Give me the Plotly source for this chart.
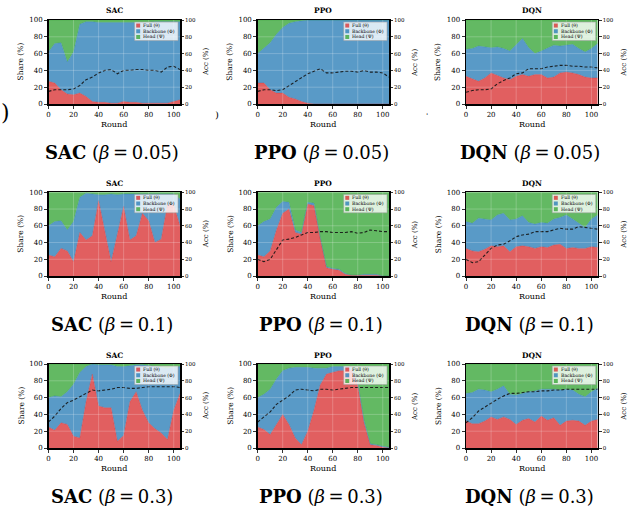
import plotly.graph_objects as go

# ---------------- data ----------------
rounds = [0, 5, 10, 15, 20, 25, 30, 35, 40, 45, 50, 55, 60, 65, 70, 75, 80, 85, 90, 95, 100, 105]
x_ticks = [0, 20, 40, 60, 80, 100]
y_ticks = [0, 20, 40, 60, 80, 100]
series_names = ["Full (θ)", "Backbone (Φ)", "Head (Ψ)"]
algos = ["SAC", "PPO", "DQN"]
betas = ["0.05", "0.1", "0.3"]

sac_005_full = [27, 25, 17, 12, 11, 13, 9, 3, 2, 2, 1, 1, 3, 2, 2, 1, 1, 1, 1, 1, 3, 5]
sac_005_backbone = [35, 47, 56, 38, 51, 82, 89, 95, 95, 95, 96, 96, 94, 95, 95, 96, 96, 97, 97, 97, 95, 93]
sac_005_head = [38, 28, 27, 50, 38, 5, 2, 2, 3, 3, 3, 3, 3, 3, 3, 3, 3, 2, 2, 2, 2, 2]
sac_005_acc = [15, 17, 17, 17, 18, 22, 29, 32, 37, 40, 41, 36, 40, 40, 41, 41, 40, 40, 38, 44, 45, 41]

ppo_005_full = [25, 25, 17, 13, 13, 8, 6, 3, 1, 0, 0, 0, 0, 0, 0, 0, 0, 0, 0, 0, 0, 0]
ppo_005_backbone = [35, 41, 56, 70, 78, 88, 92, 96, 99, 100, 100, 100, 100, 100, 100, 100, 100, 100, 100, 100, 100, 100]
ppo_005_head = [40, 34, 27, 17, 9, 4, 2, 1, 0, 0, 0, 0, 0, 0, 0, 0, 0, 0, 0, 0, 0, 0]
ppo_005_acc = [15, 17, 17, 16, 17, 22, 26, 31, 36, 39, 42, 37, 37, 38, 39, 39, 38, 40, 38, 38, 37, 32]

dqn_005_full = [33, 30, 27, 31, 37, 34, 31, 29, 33, 35, 33, 35, 35, 31, 32, 37, 38, 37, 35, 32, 31, 31]
dqn_005_backbone = [32, 36, 42, 37, 30, 34, 35, 34, 37, 43, 34, 25, 28, 36, 38, 32, 32, 34, 31, 30, 35, 41]
dqn_005_head = [35, 34, 31, 32, 33, 32, 34, 37, 30, 22, 33, 40, 37, 33, 30, 31, 30, 29, 34, 38, 34, 28]
dqn_005_acc = [14, 16, 17, 17, 18, 24, 28, 31, 36, 37, 42, 42, 42, 44, 45, 46, 46, 45, 45, 44, 44, 43]

sac_01_full = [25, 23, 33, 30, 17, 52, 43, 48, 90, 55, 17, 50, 83, 43, 48, 75, 66, 40, 44, 85, 85, 60]
sac_01_backbone = [35, 42, 33, 25, 48, 42, 56, 50, 7, 42, 81, 47, 15, 55, 50, 23, 32, 58, 54, 13, 13, 32]
sac_01_head = [40, 35, 34, 45, 35, 6, 1, 2, 3, 3, 2, 3, 2, 2, 2, 2, 2, 2, 2, 2, 2, 8]
sac_01_acc = None

ppo_01_full = [25, 23, 30, 55, 75, 80, 52, 50, 86, 84, 45, 10, 8, 7, 2, 1, 1, 1, 1, 1, 0, 0]
ppo_01_backbone = [35, 42, 38, 27, 14, 8, 3, 2, 2, 3, 1, 1, 1, 1, 1, 0, 0, 1, 1, 1, 0, 0]
ppo_01_head = [40, 35, 32, 18, 11, 12, 45, 48, 12, 13, 54, 89, 91, 92, 97, 99, 99, 98, 98, 98, 100, 100]
ppo_01_acc = [20, 17, 20, 32, 43, 44, 46, 49, 52, 52, 53, 53, 52, 52, 52, 53, 51, 52, 55, 54, 53, 53]

dqn_01_full = [33, 30, 29, 32, 36, 35, 36, 29, 35, 36, 35, 33, 35, 34, 37, 38, 33, 34, 33, 33, 35, 34]
dqn_01_backbone = [32, 33, 40, 36, 31, 38, 39, 38, 33, 36, 29, 29, 29, 29, 31, 32, 40, 34, 30, 25, 33, 39]
dqn_01_head = [35, 37, 31, 32, 33, 27, 25, 33, 32, 28, 36, 38, 36, 37, 32, 30, 27, 32, 37, 42, 32, 27]
dqn_01_acc = [20, 16, 17, 25, 33, 37, 38, 42, 47, 49, 50, 53, 53, 53, 55, 57, 56, 56, 59, 58, 57, 56]

sac_03_full = [25, 21, 30, 28, 14, 12, 55, 88, 50, 48, 48, 8, 15, 55, 67, 45, 30, 23, 18, 10, 45, 65]
sac_03_backbone = [35, 41, 31, 39, 62, 78, 42, 12, 49, 51, 51, 89, 82, 43, 32, 54, 68, 74, 78, 85, 51, 32]
sac_03_head = [40, 38, 39, 33, 24, 10, 3, 0, 1, 1, 1, 3, 3, 2, 1, 1, 2, 3, 4, 5, 4, 3]
sac_03_acc = [31, 38, 47, 54, 57, 61, 65, 69, 68, 69, 70, 72, 72, 71, 71, 72, 73, 73, 73, 73, 73, 72]

ppo_03_full = [25, 22, 16, 28, 40, 28, 12, 4, 20, 45, 75, 88, 90, 92, 92, 93, 75, 30, 4, 3, 1, 0]
ppo_03_backbone = [35, 42, 54, 54, 52, 67, 84, 92, 76, 50, 20, 7, 7, 5, 5, 3, 3, 3, 1, 1, 1, 1]
ppo_03_head = [40, 36, 30, 18, 8, 5, 4, 4, 4, 5, 5, 5, 3, 3, 3, 4, 22, 67, 95, 96, 98, 99]
ppo_03_acc = [31, 37, 43, 52, 57, 62, 69, 70, 69, 68, 70, 70, 69, 70, 71, 72, 72, 72, 72, 72, 72, 72]

dqn_03_full = [32, 29, 29, 32, 37, 34, 37, 34, 28, 33, 35, 31, 38, 33, 36, 27, 32, 33, 32, 27, 32, 34]
dqn_03_backbone = [33, 37, 41, 37, 30, 36, 37, 30, 35, 32, 32, 37, 32, 37, 34, 42, 38, 36, 32, 34, 35, 37]
dqn_03_head = [35, 34, 30, 31, 33, 30, 26, 36, 37, 35, 33, 32, 30, 30, 30, 31, 30, 31, 36, 39, 33, 29]
dqn_03_acc = [30, 36, 44, 49, 53, 58, 62, 65, 65, 66, 67, 67, 68, 68, 69, 69, 70, 70, 70, 70, 70, 70]

panels = [
    (sac_005_full, sac_005_backbone, sac_005_head, sac_005_acc),
    (ppo_005_full, ppo_005_backbone, ppo_005_head, ppo_005_acc),
    (dqn_005_full, dqn_005_backbone, dqn_005_head, dqn_005_acc),
    (sac_01_full, sac_01_backbone, sac_01_head, sac_01_acc),
    (ppo_01_full, ppo_01_backbone, ppo_01_head, ppo_01_acc),
    (dqn_01_full, dqn_01_backbone, dqn_01_head, dqn_01_acc),
    (sac_03_full, sac_03_backbone, sac_03_head, sac_03_acc),
    (ppo_03_full, ppo_03_backbone, ppo_03_head, ppo_03_acc),
    (dqn_03_full, dqn_03_backbone, dqn_03_head, dqn_03_acc),
]

# ---------------- layout / style ----------------
W, H = 632, 506
FONT = "DejaVu Serif"
COLORS = ["rgba(214,39,40,0.74)", "rgba(31,119,180,0.74)", "rgba(44,160,44,0.74)"]
col_x0 = [48.5, 257.7, 466.0]
col_x1 = [180.0, 389.0, 597.7]
row_y0 = [20.0, 192.3, 364.0]
row_y1 = [104.0, 276.0, 448.0]


def px(x):
    return x / W


def py(y):
    return 1 - y / H


fig = go.Figure()
annotations = []
shapes = []
layout_axes = {}

for i, (full, backbone, head, acc) in enumerate(panels):
    r, c = divmod(i, 3)
    xa = "x" if i == 0 else f"x{i + 1}"
    ya = "y" if i == 0 else f"y{2 * i + 1}"
    ya2 = f"y{2 * i + 2}"
    xkey = "xaxis" if i == 0 else f"xaxis{i + 1}"
    ykey = "yaxis" if i == 0 else f"yaxis{2 * i + 1}"
    y2key = f"yaxis{2 * i + 2}"

    for name, vals, col in zip(series_names, [full, backbone, head], COLORS):
        fig.add_trace(go.Scatter(
            x=rounds, y=vals, name=name, stackgroup=f"s{i}", mode="lines",
            line=dict(width=0.4, color=col), fillcolor=col,
            xaxis=xa, yaxis=ya, showlegend=False, hoverinfo="skip"))
    if acc is not None:
        fig.add_trace(go.Scatter(
            x=rounds, y=acc, name="Acc", mode="lines",
            line=dict(color="rgba(20,20,20,0.9)", width=1.1, dash="3px,2px"),
            xaxis=xa, yaxis=ya2, showlegend=False, hoverinfo="skip"))
    else:
        fig.add_trace(go.Scatter(x=[], y=[], mode="lines", xaxis=xa, yaxis=ya2,
                                 showlegend=False, hoverinfo="skip"))

    tick_common = dict(ticks="outside", ticklen=3, tickwidth=0.8, tickcolor="black",
                       showgrid=False, zeroline=False, automargin=False)
    layout_axes[xkey] = dict(
        domain=[px(col_x0[c]), px(col_x1[c])], range=[0, 105], tickvals=x_ticks,
        tickfont=dict(family=FONT, size=7, color="black"),
        showline=True, mirror=True, linecolor="black", linewidth=1.5,
        anchor=ya, **tick_common)
    layout_axes[ykey] = dict(
        domain=[py(row_y1[r]), py(row_y0[r])], range=[0, 100], tickvals=y_ticks,
        tickfont=dict(family=FONT, size=7, color="black"),
        showline=True, mirror=True, linecolor="black", linewidth=1.5,
        anchor=xa, **tick_common)
    layout_axes[y2key] = dict(
        domain=[py(row_y1[r]), py(row_y0[r])], range=[0, 100], tickvals=y_ticks,
        tickfont=dict(family=FONT, size=5.5, color="black"),
        overlaying=ya, side="right", anchor=xa, showline=False, **tick_common)

    # grid lines (light, above fills)
    for gx in x_ticks[1:]:
        shapes.append(dict(type="line", xref=xa, yref=f"{ya} domain", x0=gx, x1=gx, y0=0, y1=1,
                           line=dict(color="rgba(255,255,255,0.28)", width=0.8), layer="above"))
    for gy in y_ticks[1:-1]:
        shapes.append(dict(type="line", xref=f"{xa} domain", yref=ya, x0=0, x1=1, y0=gy, y1=gy,
                           line=dict(color="rgba(255,255,255,0.28)", width=0.8), layer="above"))

    # manual legend
    shapes.append(dict(type="rect", xref=f"{xa} domain", yref=f"{ya} domain",
                       x0=0.655, x1=0.985, y0=0.755, y1=0.975,
                       fillcolor="rgba(255,255,255,0.78)",
                       line=dict(color="rgba(160,160,160,0.9)", width=0.6), layer="above"))
    for k, (name, col) in enumerate(zip(series_names, COLORS)):
        yc = 0.934 - k * 0.068
        shapes.append(dict(type="rect", xref=f"{xa} domain", yref=f"{ya} domain",
                           x0=0.667, x1=0.697, y0=yc - 0.024, y1=yc + 0.024,
                           fillcolor=col, line=dict(width=0), layer="above"))
        annotations.append(dict(xref=f"{xa} domain", yref=f"{ya} domain", x=0.705, y=yc,
                                text=name, showarrow=False, xanchor="left", yanchor="middle",
                                font=dict(family=FONT, size=4.6, color="black")))

    cx = (col_x0[c] + col_x1[c]) / 2
    cy = (row_y0[r] + row_y1[r]) / 2
    annotations.append(dict(xref="paper", yref="paper", x=px(cx), y=py(row_y0[r] - 9),
                            text=f"<b>{algos[c]}</b>", showarrow=False,
                            xanchor="center", yanchor="middle",
                            font=dict(family=FONT, size=7.5, color="black")))
    annotations.append(dict(xref="paper", yref="paper", x=px(cx), y=py(row_y1[r] + 20),
                            text="Round", showarrow=False, xanchor="center", yanchor="middle",
                            font=dict(family=FONT, size=8, color="black")))
    annotations.append(dict(xref="paper", yref="paper", x=px(col_x0[c] - 28), y=py(cy),
                            text="Share (%)", showarrow=False, textangle=-90,
                            xanchor="center", yanchor="middle",
                            font=dict(family=FONT, size=7.5, color="black")))
    annotations.append(dict(xref="paper", yref="paper", x=px(col_x1[c] + 26), y=py(cy),
                            text="Acc (%)", showarrow=False, textangle=-90,
                            xanchor="center", yanchor="middle",
                            font=dict(family=FONT, size=7, color="black")))
    cap_y = [152, 324, 496][r]
    annotations.append(dict(xref="paper", yref="paper", x=px(cx - 2), y=py(cap_y),
                            text=f"<b>{algos[c]}</b> (<i>β</i>\u2009=\u2009{betas[r]})",
                            showarrow=False, xanchor="center", yanchor="middle",
                            font=dict(family=FONT, size=18, color="black")))

# cropped remnants of the surrounding document
annotations.append(dict(xref="paper", yref="paper", x=px(5), y=py(112), text=")",
                        showarrow=False, xanchor="center", yanchor="middle",
                        font=dict(family=FONT, size=22, color="black")))
annotations.append(dict(xref="paper", yref="paper", x=px(217), y=py(114), text=")",
                        showarrow=False, xanchor="center", yanchor="middle",
                        font=dict(family=FONT, size=10, color="black")))
annotations.append(dict(xref="paper", yref="paper", x=px(426.5), y=py(116), text="ˈ",
                        showarrow=False, xanchor="center", yanchor="middle",
                        font=dict(family=FONT, size=8, color="black")))

fig.update_layout(
    width=W, height=H, margin=dict(l=0, r=0, t=0, b=0),
    paper_bgcolor="white", plot_bgcolor="white",
    showlegend=False, annotations=annotations, shapes=shapes,
    font=dict(family=FONT, color="black"),
    hovermode=False,
    **layout_axes,
)

fig.write_html(
    "out.html",
    config={"displayModeBar": False, "staticPlot": True},
    post_script="document.body.style.margin='0px';document.body.style.overflow='hidden';",
)
